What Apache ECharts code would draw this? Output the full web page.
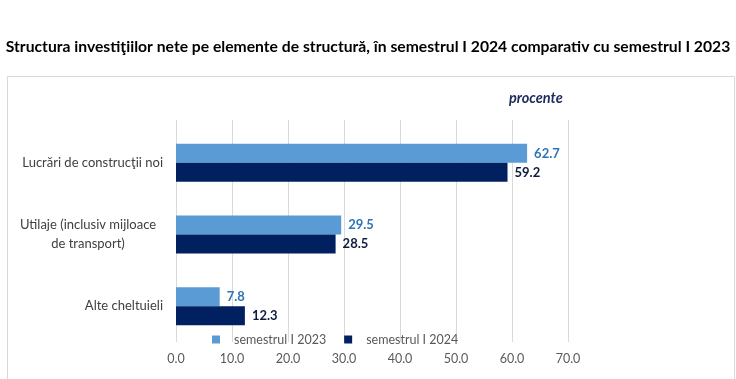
<!DOCTYPE html>
<html><head><meta charset="utf-8">
<script src="https://cdn.jsdelivr.net/npm/echarts@6/dist/echarts.min.js"></script>
<style>html,body{margin:0;padding:0;background:#fff}#c{width:736px;height:379px}</style>
</head><body><div id="c"></div>
<script>
var categories = ['Lucrări de construcţii noi', 'Utilaje (inclusiv mijloace\nde transport)', 'Alte cheltuieli'];
var seriesNames = ['semestrul I 2023', 'semestrul I 2024'];
var values2023 = [62.7, 29.5, 7.8];
var values2024 = [59.2, 28.5, 12.3];
var xTicks = [0, 10, 20, 30, 40, 50, 60, 70];

var FONT = 'Lato, "Open Sans", sans-serif';
var chart = echarts.init(document.getElementById('c'));
chart.setOption({
  animation: false,
  textStyle: { fontFamily: FONT },
  graphic: [{
    type: 'rect', left: 5, top: 74, shape: { width: 727, height: 303 },
    style: { fill: 'none', stroke: '#D9D9D9', lineWidth: 1 }, silent: true
  }, {
    type: 'text', left: 509, top: 91,
    style: { text: 'procente', fill: '#1F2A5A', font: 'italic bold 14.5px ' + FONT }
  }],
  title: {
    text: 'Structura investiţiilor nete pe elemente de structură, în semestrul I 2024 comparativ cu semestrul I 2023',
    left: 'center', top: 34,
    textStyle: { fontSize: 15.7, fontWeight: 'bold', color: '#000', fontFamily: FONT }
  },
  legend: {
    data: seriesNames, top: 328, left: 207,
    itemWidth: 8, itemHeight: 8, itemGap: 18, icon: 'rect',
    textStyle: { color: '#595959', fontSize: 12.5, fontFamily: FONT, padding: [0, 0, 0, 9] }
  },
  grid: [
    { left: 176, right: 168, top: 127, bottom: 37 },
    { left: 176, right: 168, top: 120, bottom: 37 }
  ],
  xAxis: [{
    type: 'value', min: 0, max: 70, interval: 10, gridIndex: 0,
    axisLine: { show: false }, axisTick: { show: false },
    splitLine: { show: false },
    axisLabel: { color: '#595959', fontSize: 12.5, margin: 10,
      formatter: function (v) { return v.toFixed(1); } }
  }, {
    type: 'value', min: 0, max: 70, interval: 10, gridIndex: 1,
    axisLine: { show: false }, axisTick: { show: false }, axisLabel: { show: false },
    splitLine: { lineStyle: { color: '#D9D9D9' } }
  }],
  yAxis: [{
    type: 'category', data: categories, inverse: true, gridIndex: 0,
    axisLine: { show: false }, axisTick: { show: false },
    axisLabel: {
      margin: 13, color: '#404040', fontSize: 13,
      formatter: function (v) {
        if (v.indexOf('\n') >= 0) {
          return v.split('\n').map(function (s) { return '{c|' + s + '}'; }).join('\n');
        }
        return v;
      },
      rich: { c: { width: 150, align: 'center', color: '#404040', fontSize: 13, lineHeight: 19, fontFamily: FONT } }
    }
  }, {
    type: 'category', data: categories, gridIndex: 1, show: false
  }],
  series: [{
    name: seriesNames[0], type: 'bar', data: values2023,
    itemStyle: { color: '#5B9BD5' }, barWidth: 19, barGap: '0%',
    label: { show: true, position: 'right', distance: 7, color: '#2E75B6', fontWeight: 'bold', fontSize: 13,
      formatter: function (p) { return p.value.toFixed(1); } }
  }, {
    name: seriesNames[1], type: 'bar', data: values2024,
    itemStyle: { color: '#002060' }, barWidth: 19,
    label: { show: true, position: 'right', distance: 7, color: '#0E1B3F', fontWeight: 'bold', fontSize: 13,
      formatter: function (p) { return p.value.toFixed(1); } }
  }]
});
</script></body></html>
